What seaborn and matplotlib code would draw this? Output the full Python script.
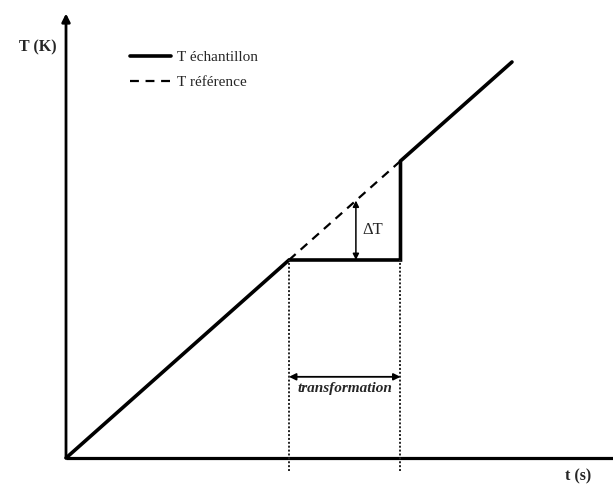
import matplotlib
matplotlib.use("Agg")
import matplotlib.pyplot as plt
import seaborn as sns
import pandas as pd

# Time (s, arbitrary units) and temperature (K, arbitrary units)
t_sample = [0, 2, 3, 3, 4]
T_sample = [0, 2, 2, 3, 4]
t_ref = [2, 3]
T_ref = [2, 3]

t_start, t_end = 2, 3          # transformation interval
t_delta = 2.6                  # where the ΔT gap is marked
T_plateau = 2

label_sample = "T échantillon"
label_ref = "T référence"

sns.set_theme(style="white")
plt.rcParams["font.family"] = ["Liberation Serif", "DejaVu Serif"]

fig = plt.figure(figsize=(6.13, 4.88), dpi=100)
ax = fig.add_axes([0, 0, 1, 1])
ax.set_xlim(-0.592, 4.906)
ax.set_ylim(-0.303, 4.626)
ax.axis("off")

sample = pd.DataFrame({"t": t_sample, "T": T_sample})
ref = pd.DataFrame({"t": t_ref, "T": T_ref})

sns.lineplot(data=sample, x="t", y="T", sort=False, estimator=None,
             color="black", lw=2.6, ax=ax, label=label_sample,
             solid_joinstyle="miter")
sns.lineplot(data=ref, x="t", y="T", sort=False, estimator=None,
             color="black", lw=1.6, ax=ax, label=label_ref,
             linestyle=(0, (4, 3)))

# axes with arrow on T
ax.annotate("", xy=(0, 4.49), xytext=(0, 0),
            arrowprops=dict(arrowstyle="-|>", lw=2.0, color="black",
                            mutation_scale=12, shrinkA=0, shrinkB=0))
ax.plot([0, 4.906], [0, 0], color="black", lw=2.3, solid_capstyle="butt")

# dotted markers of the transformation interval
ax.vlines([t_start, t_end], -0.13, T_plateau, colors="#222222",
          linestyles=(0, (1, 1)), lw=1.4)

# transformation span arrow
y_span = 0.82
ax.annotate("", xy=(t_end, y_span), xytext=(t_start, y_span),
            arrowprops=dict(arrowstyle="<|-|>", lw=1.3, color="black",
                            mutation_scale=10, shrinkA=0, shrinkB=0))
ax.text((t_start + t_end) / 2, 0.7, "transformation", ha="center",
        va="center", fontsize=11, fontweight="bold", fontstyle="italic")

# ΔT gap between reference and sample
ax.annotate("", xy=(t_delta, t_delta), xytext=(t_delta, T_plateau),
            arrowprops=dict(arrowstyle="<|-|>", lw=1.1, color="black",
                            mutation_scale=9, shrinkA=0, shrinkB=0))
ax.text(t_delta + 0.06, (t_delta + T_plateau) / 2, "ΔT", ha="left",
        va="center", fontsize=12)

ax.text(-0.25, 4.15, "T (K)", ha="center", va="center", fontsize=11.5,
        fontweight="bold")
ax.text(4.59, -0.19, "t (s)", ha="center", va="center", fontsize=11.5,
        fontweight="bold")

leg = ax.legend(loc="upper left", bbox_to_anchor=(0.212, 0.897),
                frameon=False, fontsize=11, handlelength=2.7,
                handletextpad=0.35, borderpad=0, borderaxespad=0,
                labelspacing=0.75)

fig.savefig("out.png", dpi=100)
